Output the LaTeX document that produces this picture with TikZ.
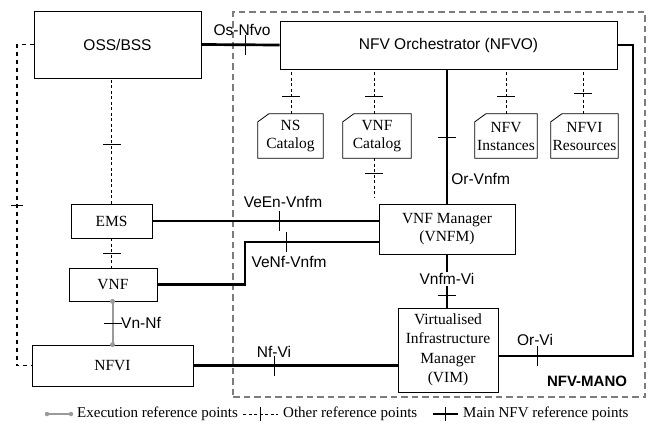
\documentclass[tikz,border=0pt]{standalone}
\usepackage{fontspec}
\setmainfont{Liberation Serif}
\setsansfont{Liberation Sans}
\usetikzlibrary{calc}
\definecolor{execgray}{HTML}{9A9A9A}
\definecolor{manogray}{HTML}{7C7C7C}
\begin{document}
\begin{tikzpicture}[x=1pt,y=-1pt,
 box/.style={draw, line width=0.8pt, inner sep=0pt, align=center, font=\fontsize{15.5}{18.5}\selectfont},
 sbox/.style={box, font=\sffamily\fontsize{15.5}{18.5}\selectfont},
 catbox/.style={inner sep=0pt, align=center, font=\fontsize{15.5}{18}\selectfont, minimum height=44pt},
 lbl/.style={font=\sffamily\fontsize{15.5}{18}\selectfont, inner sep=1pt},
 leg/.style={font=\fontsize{15}{18}\selectfont, inner sep=2pt, anchor=west},
 mainref/.style={line width=2.7pt},
 otherref/.style={line width=0.8pt, dash pattern=on 3pt off 2.5pt},
 otherlong/.style={line width=1.2pt, dash pattern=on 4pt off 4pt},
 execref/.style={line width=2pt, draw=execgray},
 tk/.style={line width=0.9pt, solid, draw=black},
 vtick/.pic={\draw[tk] (0,-10) -- (0,10);},
 htick/.pic={\draw[tk] (-9,0) -- (9,0);},
 stick/.pic={\draw[tk] (-6,0) -- (6,0);},
 mano/.style={draw=manogray, line width=2.8pt, dash pattern=on 6.5pt off 4pt, inner sep=0pt},
 dot/.style={circle, fill=execgray, inner sep=0pt, minimum size=5pt}
]
\useasboundingbox (0,0) rectangle (653,424);

% MANO frame
\node[mano, minimum width=412pt, minimum height=385pt] (mano) at (439,204.5) {};
\node[font=\sffamily\bfseries\fontsize{15}{18}\selectfont, inner sep=0pt] (manolbl) at (587,381) {NFV-MANO};

% boxes
\node[sbox, minimum width=167pt, minimum height=67pt] (oss) at (117.5,44.5) {OSS/BSS};
\node[sbox, minimum width=337pt, minimum height=48pt] (nfvo) at (448.5,45) {NFV Orchestrator (NFVO)};
\node[box, minimum width=81pt, minimum height=34pt] (ems) at (111.5,221) {EMS};
\node[box, minimum width=88pt, minimum height=33pt] (vnf) at (113,284.5) {VNF};
\node[box, minimum width=161pt, minimum height=41pt] (nfvi) at (112.5,365.5) {NFVI};
\node[box, minimum width=136pt, minimum height=50pt] (vnfm) at (447,229) {VNF Manager\\(VNFM)};
\node[box, minimum width=100pt, minimum height=84pt, font=\fontsize{15.5}{19.5}\selectfont] (vim) at (448,350) {Virtualised\\Infrastructure\\Manager\\(VIM)};

% catalogs
\node[catbox, minimum width=65pt] (nsc) at (290.5,136) {NS\\Catalog};
\node[catbox, minimum width=68pt] (vnfc) at (377,136) {VNF\\Catalog};
\node[catbox, minimum width=62pt] (nfvinst) at (506,136) {NFV\\Instances};
\node[catbox, minimum width=67pt] (nfvires) at (584.5,136) {NFVI\\Resources};
\foreach \c in {nsc,vnfc,nfvinst,nfvires}{
  \draw[line width=0.8pt] (\c.south west) -- ([yshift=-8pt]\c.north west) -- ([xshift=11pt]\c.north west) -- (\c.north east) -- (\c.south east) -- cycle;
}

% other reference points (dashed)
\coordinate (lft) at (17,365.5);
\draw[otherlong] (oss.west) -| pic[pos=0.75]{stick} (lft) -- (nfvi.west);
\draw[otherref] (ems.north) -- pic[pos=0.47]{htick} (ems.north |- oss.south);
\draw[otherref] (ems.south) -- pic[pos=0.5]{htick} (ems.south |- vnf.north);
\draw[otherref] ([xshift=0.5pt]nsc.north) -- pic[pos=0.38]{htick} ([xshift=0.5pt]nsc.north |- nfvo.south);
\draw[otherref] ([xshift=-3pt]vnfc.north) -- pic[pos=0.38]{htick} ([xshift=-3pt]vnfc.north |- nfvo.south);
\coordinate (vnfcend) at (374,198);
\draw[otherref] ([xshift=-3pt]vnfc.south) -- pic[pos=0.38]{htick} (vnfcend);
\draw[otherref] (nfvinst.north) -- pic[pos=0.38]{htick} (nfvinst.north |- nfvo.south);
\draw[otherref] ([xshift=-1.5pt]nfvires.north) -- pic[pos=0.45]{htick} ([xshift=-1.5pt]nfvires.north |- nfvo.south);

% main reference points
\draw[mainref] (oss.east) -- pic[pos=0.557]{vtick} (nfvo.west);
\node[lbl, anchor=south] (osnfvo) at (242,37) {Os-Nfvo};

\draw[mainref] (vnfm.north) -- pic[pos=0.496]{htick} node[pos=0.18, lbl, anchor=west, xshift=2pt] (orvnfm) {Or-Vnfm} (vnfm.north |- nfvo.south);

\coordinate (orvi) at (633,356);
\draw[mainref] (nfvo.east) -| (orvi) -- pic[pos=0.711]{vtick} (vim.east |- orvi);
\node[lbl] (orvilbl) at (535,340) {Or-Vi};

\draw[mainref] (vnfm.south) -- pic[pos=0.78]{htick} (vnfm.south |- vim.north);
\node[lbl, fill=white] (vnfmvi) at (447,279) {Vnfm-Vi};

\draw[mainref] (ems.east) -- pic[pos=0.56]{vtick} (vnfm.west |- ems.east);
\node[lbl] (veen) at (283,202) {VeEn-Vnfm};

\coordinate (venf) at (245,242);
\draw[mainref] (vnf.east) -| (venf) -- pic[pos=0.313]{vtick} (vnfm.west |- venf);
\node[lbl] (venflbl) at (289,262) {VeNf-Vnfm};

\draw[mainref] (nfvi.east) -- pic[pos=0.395]{vtick} (vim.west |- nfvi.east);
\node[lbl] (nfvilbl) at (274,352) {Nf-Vi};

% execution reference point
\draw[execref] ([xshift=-0.5pt]vnf.south) -- pic[pos=0.5]{htick} ([xshift=-0.5pt]vnf.south |- nfvi.north);
\node[dot] (d1) at ([xshift=-0.5pt]vnf.south) {};
\node[dot] (d2) at ([xshift=-0.5pt]vnf.south |- nfvi.north) {};
\node[lbl, anchor=west] (vnnf) at (120,323) {Vn-Nf};

% legend
\coordinate (le1) at (47,414);
\coordinate (le2) at (71,414);
\draw[execref] (le1) -- (le2);
\node[dot, minimum size=4.5pt] at (le1) {};
\node[dot, minimum size=4.5pt] at (le2) {};
\node[leg] (lexec) at (75,414) {Execution reference points};

\coordinate (lo1) at (243,414);
\coordinate (lo2) at (278,414);
\draw[otherref] (lo1) -- (lo2);
\draw[tk] ([yshift=7pt]$(lo1)!0.5!(lo2)$) -- ([yshift=-7pt]$(lo1)!0.5!(lo2)$);
\node[leg] (lother) at (281,414) {Other reference points};

\coordinate (lm1) at (433,414);
\coordinate (lm2) at (458,414);
\draw[mainref] (lm1) -- (lm2);
\draw[tk] ([yshift=7pt]$(lm1)!0.5!(lm2)$) -- ([yshift=-7pt]$(lm1)!0.5!(lm2)$);
\node[leg] (lmain) at (461,414) {Main NFV reference points};
\end{tikzpicture}
\end{document}
